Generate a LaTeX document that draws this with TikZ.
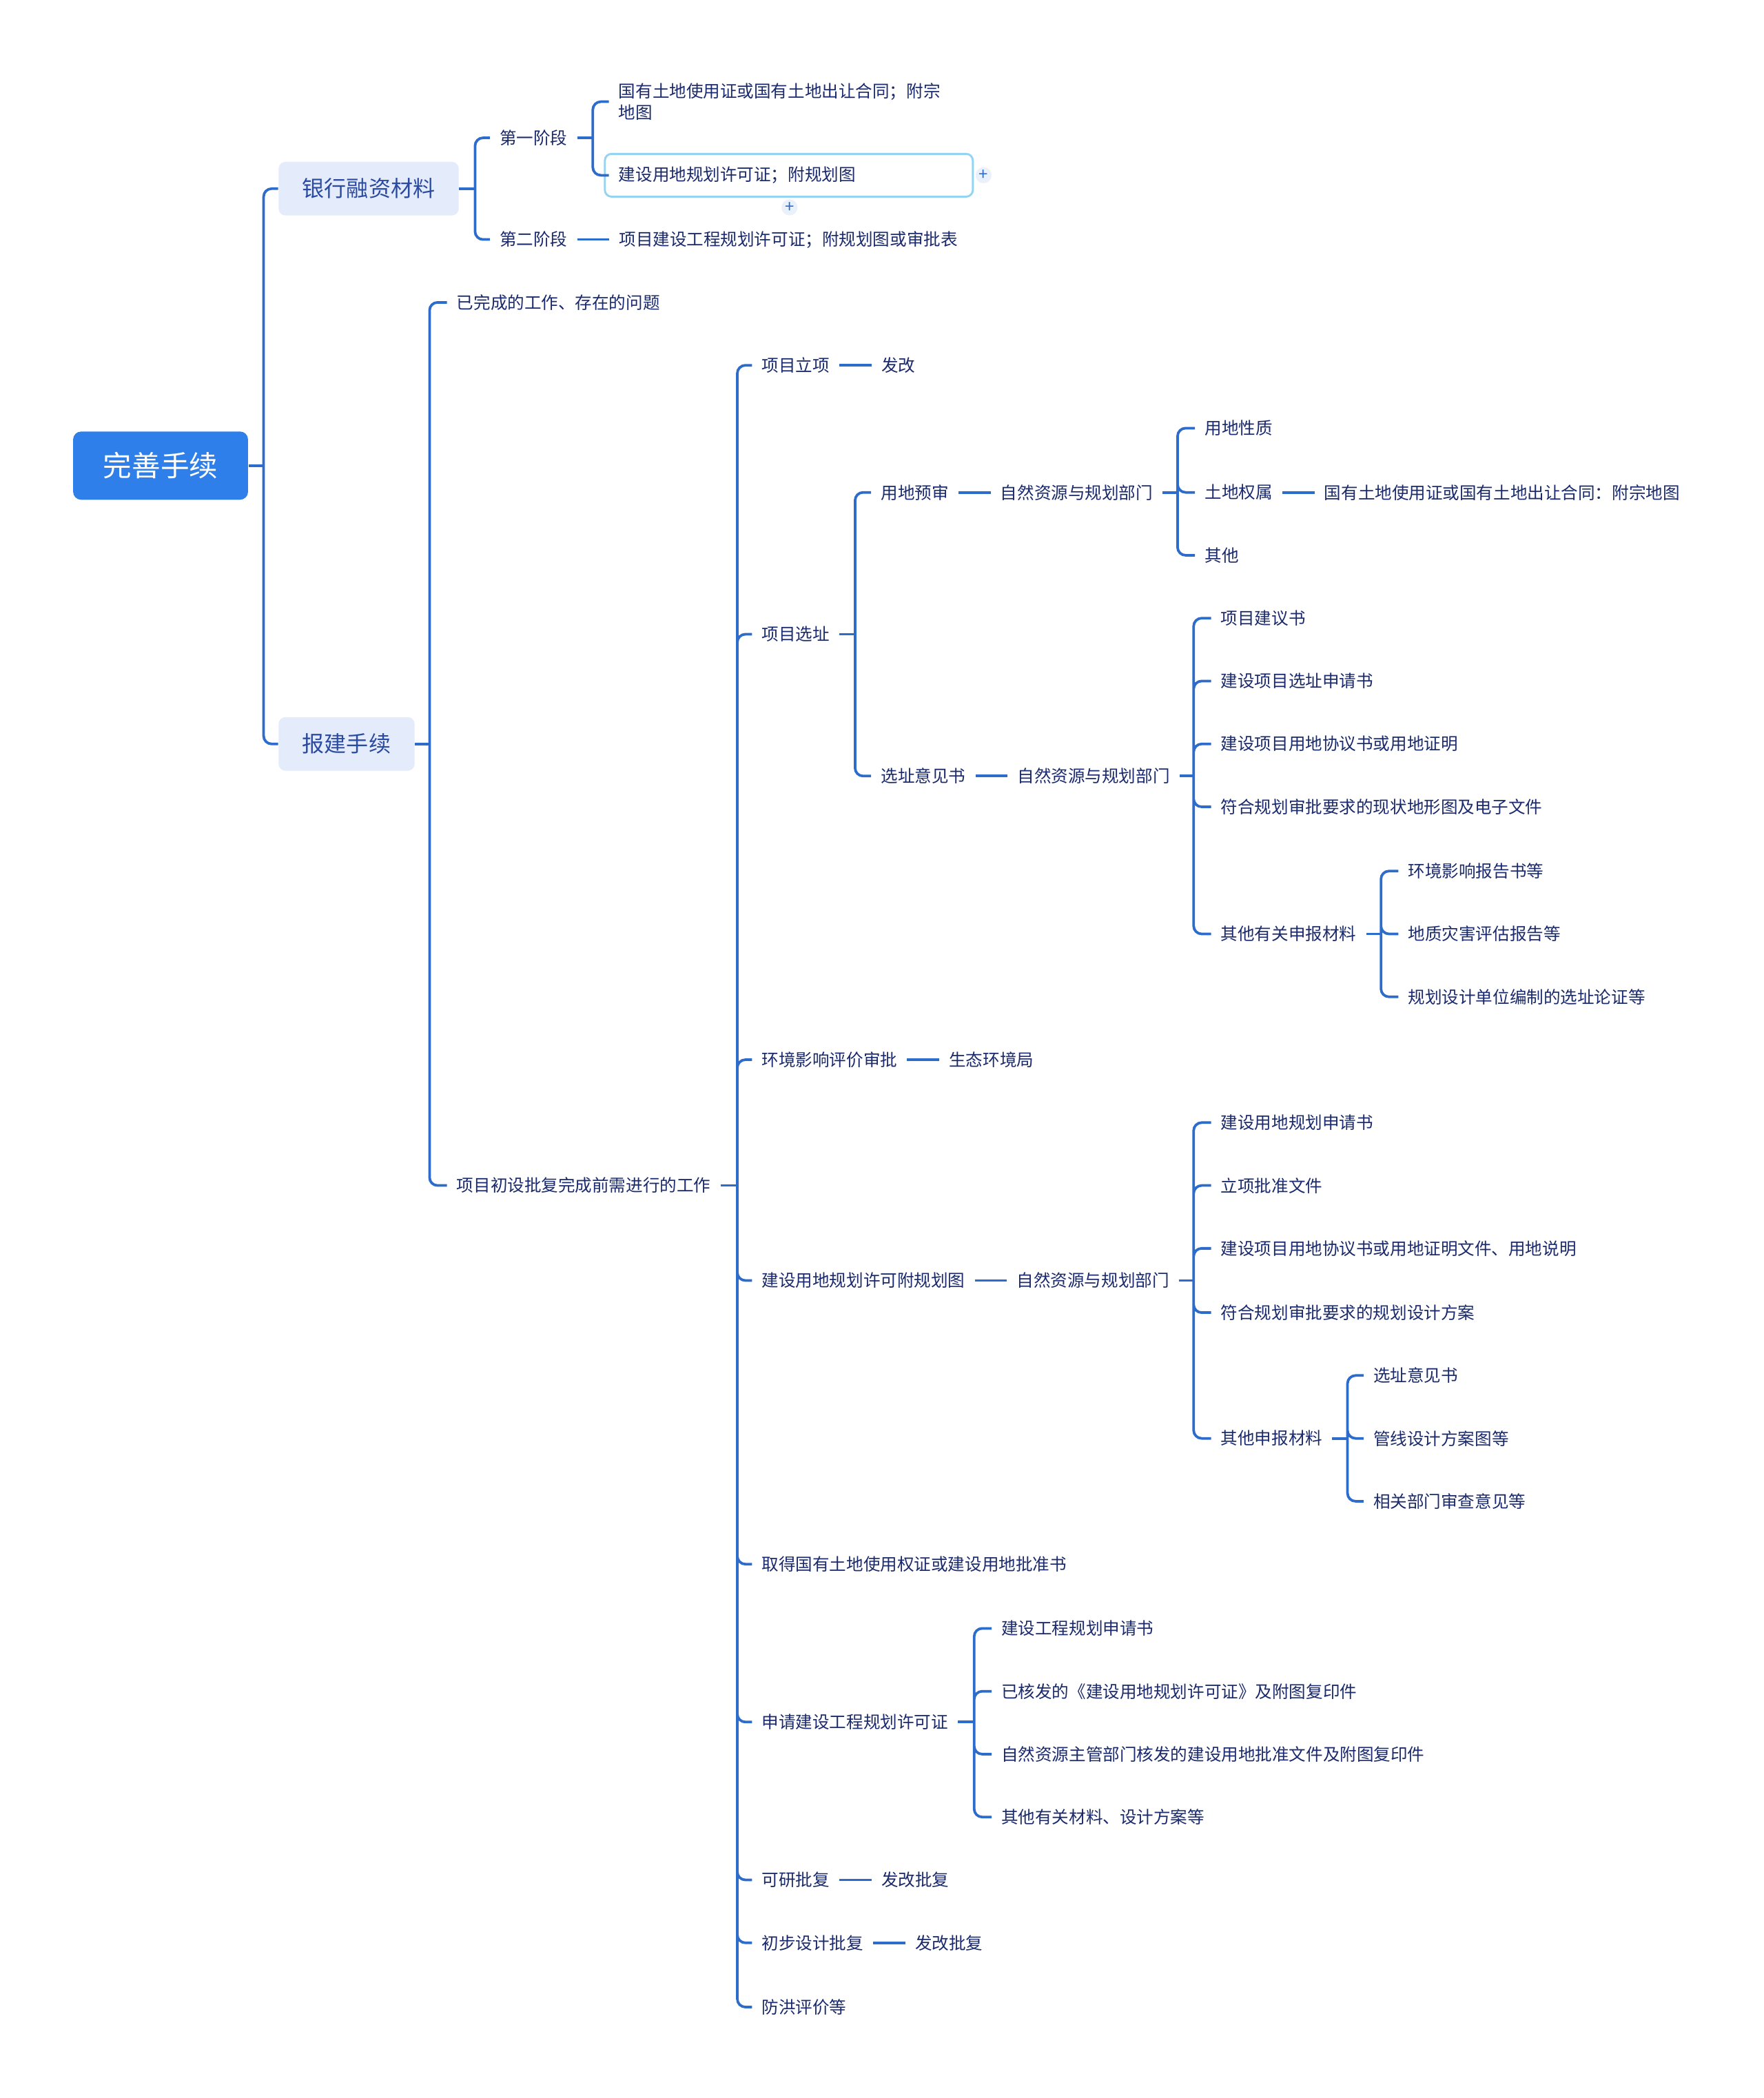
\documentclass[tikz,border=0pt]{standalone}
\usepackage{fontspec}
\setmainfont{Noto Sans CJK SC}
\usetikzlibrary{positioning}
\definecolor{rootblue}{RGB}{47,127,234}
\definecolor{topicfill}{RGB}{228,235,251}
\definecolor{topictext}{RGB}{43,75,160}
\definecolor{leaftext}{RGB}{26,42,108}
\definecolor{linkblue}{RGB}{45,108,203}
\definecolor{selblue}{RGB}{148,211,242}
\definecolor{plusfill}{RGB}{234,241,250}

\begin{document}
\begin{tikzpicture}[x=0.02cm, y=-0.02cm,
  root/.style={rectangle, fill=rootblue, text=white, rounded corners=0.12cm, minimum height=1.02cm, inner xsep=0.45cm, font=\fontsize{12.2pt}{14pt}\selectfont},
  topic/.style={rectangle, fill=topicfill, text=topictext, rounded corners=0.1cm, minimum height=0.8cm, inner xsep=0.355cm, font=\fontsize{9.4pt}{11pt}\selectfont},
  leaf/.style={text=leaftext, inner xsep=0.14cm, inner ysep=0.04cm, anchor=west, align=left, font=\fontsize{7.2pt}{9.1pt}\selectfont},
  link/.style={draw=linkblue, line width=1.1pt, rounded corners=0.12cm},
  selbox/.style={draw=selblue, line width=0.85pt, rounded corners=0.1cm},
  addbtn/.style={circle, fill=plusfill, text=linkblue, inner sep=0pt, minimum size=0.24cm, font=\fontsize{7pt}{7pt}\selectfont},
  node distance=0.48cm
]
  \fill[white] (0,0) rectangle (1318,1568);
  \useasboundingbox (0,0) rectangle (1318,1568);

  % root and main topics
  \node[root] (root) at (120,348) {完善手续};
  \node[topic] (bank) at (275.5,141) {银行融资材料};
  \node[topic] (baojian) at (259,556) {报建手续};
  \coordinate (jroot) at (197,348);
  \draw[link] (root.east) -- (jroot);
  \draw[link] (jroot) |- (bank.west) (jroot) |- (baojian.west);

  % bank financing
  \node[leaf] (stage1) at (366,103) {第一阶段};
  \node[leaf] (stage2) at (366,179) {第二阶段};
  \node[leaf] (s1a) at (455,76) {国有土地使用证或国有土地出让合同；附宗\\地图};
  \node[leaf] (s1b) at (455,131) {建设用地规划许可证；附规划图};
  \node[leaf, right=of stage2] (s2a) {项目建设工程规划许可证；附规划图或审批表};
  \draw[selbox] (452,115) rectangle (727,147);
  \node[addbtn] (addright) at (735,131) {+};
  \node[addbtn] (addbelow) at (590,155) {+};
  \coordinate (jbank) at (355,141);
  \coordinate (jst1) at (443,103);
  \draw[link] (bank.east) -- (jbank);
  \draw[link] (jbank) |- (stage1.west) (jbank) |- (stage2.west);
  \draw[link] (stage1.east) -- (jst1);
  \draw[link] (jst1) |- (s1a.west) (jst1) |- (s1b.west);
  \draw[link] (stage2) -- (s2a);

  % approval procedures
  \node[leaf] (done) at (334,226) {已完成的工作、存在的问题};
  \node[leaf] (prep) at (334,886) {项目初设批复完成前需进行的工作};
  \coordinate (jbj) at (321,556);
  \draw[link] (baojian.east) -- (jbj);
  \draw[link] (jbj) |- (done.west) (jbj) |- (prep.west);

  \node[leaf] (lixiang) at (562,273) {项目立项};
  \node[leaf, right=of lixiang] (fagai1) {发改};
  \node[leaf] (xuanzhi) at (562,474) {项目选址};
  \node[leaf] (huanping) at (562,792) {环境影响评价审批};
  \node[leaf, right=of huanping] (shengtai) {生态环境局};
  \node[leaf] (ydgh) at (562,957) {建设用地规划许可附规划图};
  \node[leaf] (tudi) at (562,1169) {取得国有土地使用权证或建设用地批准书};
  \node[leaf] (gcgh) at (562,1287) {申请建设工程规划许可证};
  \node[leaf] (keyan) at (562,1405) {可研批复};
  \node[leaf, right=of keyan] (fagai2) {发改批复};
  \node[leaf] (chubu) at (562,1452) {初步设计批复};
  \node[leaf, right=of chubu] (fagai3) {发改批复};
  \node[leaf] (fanghong) at (562,1500) {防洪评价等};
  \coordinate (jprep) at (551,886);
  \draw[link] (prep.east) -- (jprep);
  \draw[link] (jprep) |- (lixiang.west) (jprep) |- (xuanzhi.west) (jprep) |- (huanping.west)
    (jprep) |- (ydgh.west) (jprep) |- (tudi.west) (jprep) |- (gcgh.west)
    (jprep) |- (keyan.west) (jprep) |- (chubu.west) (jprep) |- (fanghong.west);
  \draw[link] (lixiang) -- (fagai1);
  \draw[link] (huanping) -- (shengtai);
  \draw[link] (keyan) -- (fagai2);
  \draw[link] (chubu) -- (fagai3);

  % site selection
  \node[leaf] (yudi) at (651,368) {用地预审};
  \node[leaf, right=of yudi] (zr1) {自然资源与规划部门};
  \node[leaf] (yijian) at (651,580) {选址意见书};
  \node[leaf, right=of yijian] (zr2) {自然资源与规划部门};
  \coordinate (jxz) at (639,474);
  \draw[link] (xuanzhi.east) -- (jxz);
  \draw[link] (jxz) |- (yudi.west) (jxz) |- (yijian.west);
  \draw[link] (yudi) -- (zr1);
  \draw[link] (yijian) -- (zr2);

  \node[leaf] (xingzhi) at (893,320) {用地性质};
  \node[leaf] (quanshu) at (893,368) {土地权属};
  \node[leaf, right=of quanshu] (quanshu2) {国有土地使用证或国有土地出让合同：附宗地图};
  \node[leaf] (qita) at (893,415) {其他};
  \coordinate (jzr1) at (880,368);
  \draw[link] (zr1.east) -- (jzr1);
  \draw[link] (jzr1) |- (xingzhi.west) (jzr1) |- (quanshu.west) (jzr1) |- (qita.west);
  \draw[link] (quanshu) -- (quanshu2);

  \node[leaf] (jy1) at (905,462) {项目建议书};
  \node[leaf] (jy2) at (905,509) {建设项目选址申请书};
  \node[leaf] (jy3) at (905,556) {建设项目用地协议书或用地证明};
  \node[leaf] (jy4) at (905,603) {符合规划审批要求的现状地形图及电子文件};
  \node[leaf] (jy5) at (905,698) {其他有关申报材料};
  \coordinate (jzr2) at (892,580);
  \draw[link] (zr2.east) -- (jzr2);
  \draw[link] (jzr2) |- (jy1.west) (jzr2) |- (jy2.west) (jzr2) |- (jy3.west)
    (jzr2) |- (jy4.west) (jzr2) |- (jy5.west);

  \node[leaf] (jy5a) at (1045,651) {环境影响报告书等};
  \node[leaf] (jy5b) at (1045,698) {地质灾害评估报告等};
  \node[leaf] (jy5c) at (1045,745) {规划设计单位编制的选址论证等};
  \coordinate (jjy5) at (1032,698);
  \draw[link] (jy5.east) -- (jjy5);
  \draw[link] (jjy5) |- (jy5a.west) (jjy5) |- (jy5b.west) (jjy5) |- (jy5c.west);

  % land use planning permit
  \node[leaf, right=of ydgh] (zr3) {自然资源与规划部门};
  \draw[link] (ydgh) -- (zr3);
  \node[leaf] (gh1) at (905,839) {建设用地规划申请书};
  \node[leaf] (gh2) at (905,886) {立项批准文件};
  \node[leaf] (gh3) at (905,933) {建设项目用地协议书或用地证明文件、用地说明};
  \node[leaf] (gh4) at (905,981) {符合规划审批要求的规划设计方案};
  \node[leaf] (gh5) at (905,1075) {其他申报材料};
  \coordinate (jzr3) at (892,957);
  \draw[link] (zr3.east) -- (jzr3);
  \draw[link] (jzr3) |- (gh1.west) (jzr3) |- (gh2.west) (jzr3) |- (gh3.west)
    (jzr3) |- (gh4.west) (jzr3) |- (gh5.west);

  \node[leaf] (gh5a) at (1019,1028) {选址意见书};
  \node[leaf] (gh5b) at (1019,1075) {管线设计方案图等};
  \node[leaf] (gh5c) at (1019,1122) {相关部门审查意见等};
  \coordinate (jgh5) at (1007,1075);
  \draw[link] (gh5.east) -- (jgh5);
  \draw[link] (jgh5) |- (gh5a.west) (jgh5) |- (gh5b.west) (jgh5) |- (gh5c.west);

  % construction planning permit
  \node[leaf] (gc1) at (741,1217) {建设工程规划申请书};
  \node[leaf] (gc2) at (741,1264) {已核发的《建设用地规划许可证》及附图复印件};
  \node[leaf] (gc3) at (741,1311) {自然资源主管部门核发的建设用地批准文件及附图复印件};
  \node[leaf] (gc4) at (741,1358) {其他有关材料、设计方案等};
  \coordinate (jgc) at (728,1287);
  \draw[link] (gcgh.east) -- (jgc);
  \draw[link] (jgc) |- (gc1.west) (jgc) |- (gc2.west) (jgc) |- (gc3.west) (jgc) |- (gc4.west);
\end{tikzpicture}
\end{document}
